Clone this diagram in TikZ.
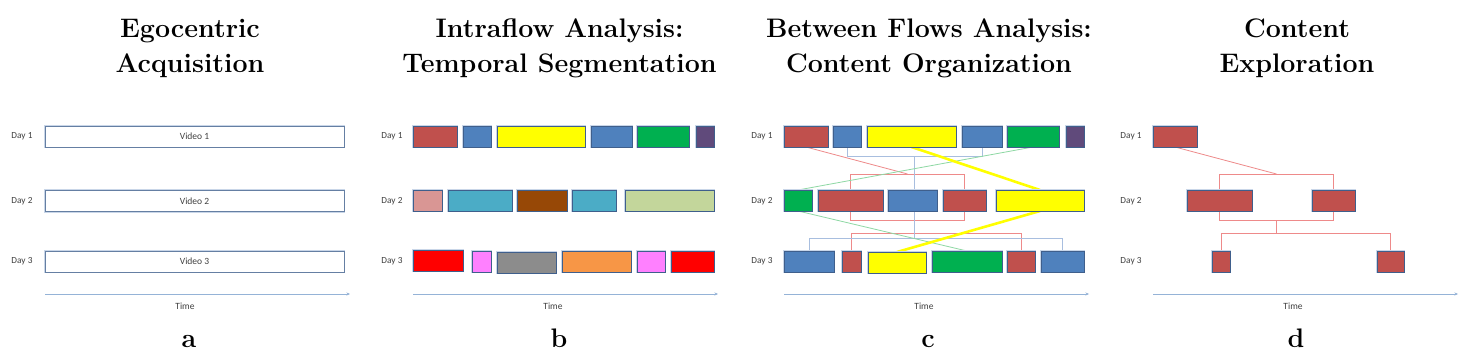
\documentclass[tikz,border=0pt]{standalone}
\usepackage{fontspec}
\newfontfamily\calfont{Carlito}
\usetikzlibrary{arrows.meta,calc}
\definecolor{cRed}{HTML}{C0504D}
\definecolor{cBlue}{HTML}{4F81BD}
\definecolor{cYellow}{HTML}{FFFF00}
\definecolor{cGreen}{HTML}{00B050}
\definecolor{cPurple}{HTML}{604A7B}
\definecolor{cPink}{HTML}{D99694}
\definecolor{cTeal}{HTML}{4BACC6}
\definecolor{cBrown}{HTML}{974806}
\definecolor{cLime}{HTML}{C3D69B}
\definecolor{cBright}{HTML}{FF0000}
\definecolor{cMagenta}{HTML}{FF80FF}
\definecolor{cGray}{HTML}{8C8C8C}
\definecolor{cOrange}{HTML}{F79646}
\definecolor{edgecol}{HTML}{3F5F8C}
\definecolor{glowcol}{HTML}{C9D6E8}
\definecolor{lnRed}{HTML}{EE8A8A}
\definecolor{lnBlue}{HTML}{A8BEDF}
\definecolor{lnGreen}{HTML}{8ED8A4}
\definecolor{axiscol}{HTML}{95B3D7}
\definecolor{txtcol}{HTML}{404040}
\pgfdeclarelayer{back}
\pgfsetlayers{back,main}
\newcommand\mkseg[5]{\node[seg,fill=#2,minimum width={(#4-#3)*1pt}] (#1) at (#3,#5) {};}
\begin{document}
\begin{tikzpicture}[x=1pt,y=-1pt,
  seg/.style={draw=edgecol,line width=0.9pt,preaction={draw=glowcol,line width=2.6pt},
    inner sep=0pt,outer sep=0pt,minimum height=21pt,anchor=north west},
  videobox/.style={draw=edgecol!80,line width=0.9pt,preaction={draw=glowcol,line width=2.6pt},
    fill=white,inner sep=0pt,outer sep=0pt,minimum height=21pt,minimum width=299pt,
    font=\calfont\fontsize{9.5}{11}\selectfont,text=txtcol},
  titletext/.style={font=\fontsize{26.8}{35}\selectfont\bfseries,anchor=base,inner sep=0pt},
  daylbl/.style={font=\calfont\fontsize{9.3}{10}\selectfont,text=txtcol,inner sep=0pt},
  timelbl/.style={font=\calfont\fontsize{9.5}{11}\selectfont,text=txtcol,inner sep=0pt},
  axisln/.style={draw=axiscol,line width=0.8pt,-{Stealth[length=3.5pt,width=3pt]}},
  redln/.style={draw=lnRed,line width=0.8pt},
  blueln/.style={draw=lnBlue,line width=0.8pt},
  greenln/.style={draw=lnGreen,line width=0.8pt},
  yelln/.style={draw=cYellow,line width=2.6pt},
]
\useasboundingbox (0,0) rectangle (1476,364);

% ---------- titles ----------
\node[titletext] (ta1) at (190,37) {Egocentric};
\node[titletext] (ta2) at (190,72) {Acquisition};
\node[titletext] (tb1) at (559.5,37) {Intraflow Analysis:};
\node[titletext] (tb2) at (559.5,72) {Temporal Segmentation};
\node[titletext] (tc1) at (929,37) {Between Flows Analysis:};
\node[titletext] (tc2) at (929,72) {Content Organization};
\node[titletext] (td1) at (1297,37) {Content};
\node[titletext] (td2) at (1297,72) {Exploration};
\node[titletext] (la) at (189,347) {a};
\node[titletext] (lb) at (559,347) {b};
\node[titletext] (lc) at (928,347) {c};
\node[titletext] (ld) at (1296,347) {d};

% ---------- day labels ----------
\foreach \px/\p in {22/a,392/b,762/c,1131/d}{
  \node[daylbl] (\p day1) at (\px,136.5) {Day 1};
  \node[daylbl] (\p day2) at (\px,201) {Day 2};
  \node[daylbl] (\p day3) at (\px,261.5) {Day 3};
}

% ---------- axes ----------
\foreach \x/\p in {45/a,413/b,784/c,1153/d}{
  \coordinate (\p ax0) at (\x,294);
  \coordinate (\p ax1) at (\x+305,294);
  \draw[axisln] (\p ax0) -- (\p ax1);
  \node[timelbl] (\p time) at (\x+140,306) {Time};
}

% ---------- panel a ----------
\node[videobox] (va1) at (194.5,136.5) {Video 1};
\node[videobox] (va2) at (194.5,201) {Video 2};
\node[videobox] (va3) at (194.5,261.5) {Video 3};

% ---------- panel b ----------
\mkseg{b1a}{cRed}{413}{457}{126}
\mkseg{b1b}{cBlue}{463}{491}{126}
\mkseg{b1c}{cYellow}{497}{585}{126}
\mkseg{b1d}{cBlue}{591}{632}{126}
\mkseg{b1e}{cGreen}{637}{689}{126}
\mkseg{b1f}{cPurple}{696}{714}{126}
\mkseg{b2a}{cPink}{413}{442}{190}
\mkseg{b2b}{cTeal}{448}{512}{190}
\mkseg{b2c}{cBrown}{517}{567}{190}
\mkseg{b2d}{cTeal}{572}{616}{190}
\mkseg{b2e}{cLime}{625}{714}{190}
\mkseg{b3a}{cBright}{413}{463}{250}
\mkseg{b3b}{cMagenta}{472}{491}{251}
\mkseg{b3c}{cGray}{497}{556}{252}
\mkseg{b3d}{cOrange}{562}{631}{251}
\mkseg{b3e}{cMagenta}{637}{665}{251}
\mkseg{b3f}{cBright}{671}{714}{251}

% ---------- panel c ----------
\mkseg{c1r}{cRed}{784}{828}{126}
\mkseg{c1b1}{cBlue}{833}{861}{126}
\mkseg{c1y}{cYellow}{867}{956}{126}
\mkseg{c1b2}{cBlue}{962}{1002}{126}
\mkseg{c1g}{cGreen}{1007}{1059}{126}
\mkseg{c1p}{cPurple}{1066}{1084}{126}
\mkseg{c2g}{cGreen}{784}{812}{190}
\mkseg{c2r1}{cRed}{818}{883}{190}
\mkseg{c2b}{cBlue}{888}{937}{190}
\mkseg{c2r2}{cRed}{943}{986}{190}
\mkseg{c2y}{cYellow}{996}{1084}{190}
\mkseg{c3b1}{cBlue}{784}{834}{251}
\mkseg{c3r1}{cRed}{842}{861}{251}
\mkseg{c3y}{cYellow}{868}{926}{252}
\mkseg{c3g}{cGreen}{932}{1002}{251}
\mkseg{c3r2}{cRed}{1007}{1035}{251}
\mkseg{c3b2}{cBlue}{1041}{1084}{251}

% ---------- panel d ----------
\mkseg{d1}{cRed}{1153}{1197}{126}
\mkseg{d2a}{cRed}{1187}{1252}{190}
\mkseg{d2b}{cRed}{1312}{1355}{190}
\mkseg{d3a}{cRed}{1212}{1230}{251}
\mkseg{d3b}{cRed}{1377}{1404}{251}

% ---------- connectors (behind boxes) ----------
\begin{pgfonlayer}{back}
\fill[white] (0,0) rectangle (1476,364);
% panel c: red
\coordinate (crt1) at ([yshift=16pt]c2r1.north);
\coordinate (crt2) at ([yshift=16pt]c2r2.north);
\coordinate (crb2) at ([yshift=-9pt]c2r2.south);
\draw[redln] (crt1) rectangle (crb2);
\draw[redln] (c1r.south) -- ($(crt1)!0.5!(crt2)$);
\draw[redln] (c3r1.north) -- ++(0,-18) -| (c3r2.north);
% panel c: blue
\draw[blueln] (c1b1.south) -- ++(0,9) -| (c1b2.south);
\coordinate (cbm) at ($(c1b1.south)!0.5!(c1b2.south)+(0,9)$);
\draw[blueln] (c3b1.north) -- ++(0,-13) coordinate (cbl) -| (c3b2.north);
\draw[blueln] (cbm) -- (cbm |- cbl);
% panel c: green
\draw[greenln] (c1g.south) -- (c2g.north);
\draw[greenln] (c2g.south) -- (c3g.north);
% panel c: yellow
\draw[yelln] (c1y.south) -- (c2y.north);
\draw[yelln] (c2y.south) -- (c3y.north);
% panel d
\coordinate (drt1) at ([yshift=16pt]d2a.north);
\coordinate (drt2) at ([yshift=16pt]d2b.north);
\coordinate (drb1) at ([yshift=-9pt]d2a.south);
\coordinate (drb2) at ([yshift=-9pt]d2b.south);
\draw[redln] (drt1) rectangle (drb2);
\draw[redln] (d1.south) -- ($(drt1)!0.5!(drt2)$);
\draw[redln] (d3a.north) -- ++(0,-18) coordinate (dlow) -| (d3b.north);
\coordinate (dm) at ($(drb1)!0.5!(drb2)$);
\draw[redln] (dm) -- (dm |- dlow);
\end{pgfonlayer}
\end{tikzpicture}
\end{document}
